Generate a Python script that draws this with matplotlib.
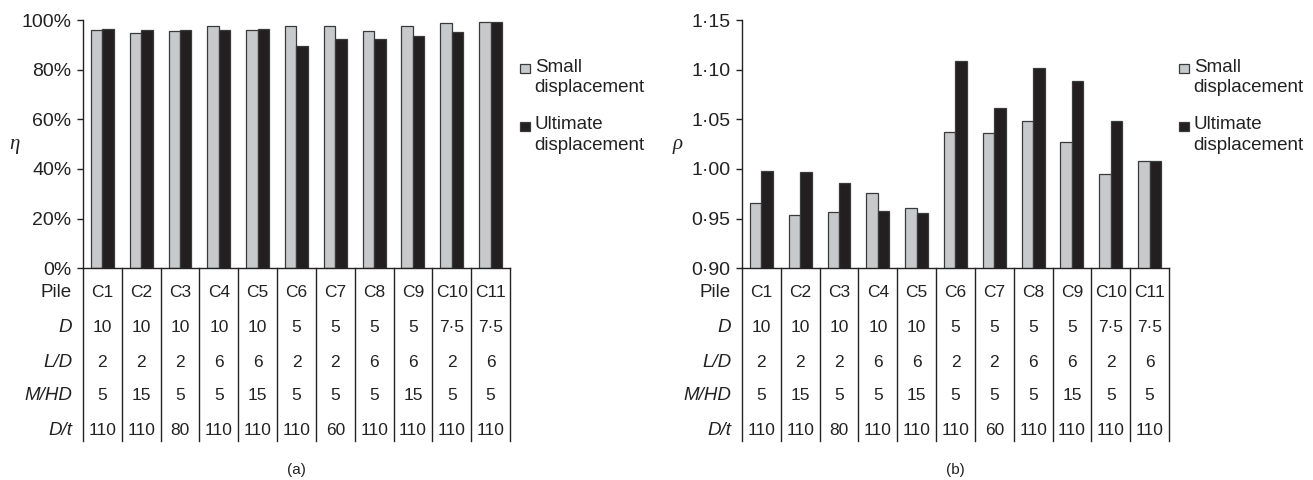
import matplotlib.pyplot as plt
import matplotlib.transforms as mtransforms
from matplotlib.ticker import FuncFormatter, PercentFormatter
from matplotlib.patches import Rectangle
import numpy as np

plt.rcParams['font.family'] = ['Liberation Sans', 'DejaVu Sans']
plt.rcParams['font.size'] = 12

# ---- data ----
piles = ['C1', 'C2', 'C3', 'C4', 'C5', 'C6', 'C7', 'C8', 'C9', 'C10', 'C11']
d_vals = ['10', '10', '10', '10', '10', '5', '5', '5', '5', '7·5', '7·5']
ld_vals = ['2', '2', '2', '6', '6', '2', '2', '6', '6', '2', '6']
mhd_vals = ['5', '15', '5', '5', '15', '5', '5', '5', '15', '5', '5']
dt_vals = ['110', '110', '80', '110', '110', '110', '60', '110', '110', '110', '110']

# efficiency eta (%)
eta_small = [96.0, 94.6, 95.4, 97.7, 95.8, 97.4, 97.4, 95.4, 97.7, 98.8, 99.3]
eta_ult = [96.4, 96.1, 96.1, 95.8, 96.2, 89.7, 92.2, 92.5, 93.6, 95.2, 99.3]

# ratio rho
rho_small = [0.966, 0.954, 0.957, 0.976, 0.961, 1.037, 1.036, 1.048, 1.027, 0.995, 1.008]
rho_ult = [0.998, 0.997, 0.986, 0.958, 0.956, 1.109, 1.061, 1.102, 1.089, 1.048, 1.008]

series_names = ['Small\ndisplacement', 'Ultimate\ndisplacement']

GREY = '#c8c9cb'
BLACK = '#231f20'
EDGE = '#3a3a3a'
LINE = '#222222'
TXT = '#222222'

fig = plt.figure(figsize=(13.13, 4.8), dpi=100)
ax_a = fig.add_axes([0.0632, 0.441, 0.3252, 0.5173])
ax_b = fig.add_axes([0.5651, 0.441, 0.3252, 0.5173])

row_names = ['Pile', 'D', 'L/D', 'M/HD', 'D/t']
row_italic = [False, True, True, True, True]
row_data = [piles, d_vals, ld_vals, mhd_vals, dt_vals]
row_y = [-0.096, -0.237, -0.378, -0.511, -0.652]
line_bottom = -0.696

x = np.arange(len(piles))
w = 0.295


def draw_panel(ax, small, ult, ylim, yticks, fmt, ylab, ylab_x, tag):
    ax.bar(x - w / 2, small, w, color=GREY, edgecolor=EDGE, linewidth=0.9)
    ax.bar(x + w / 2, ult, w, color=BLACK, edgecolor=EDGE, linewidth=0.9)
    ax.set_xlim(-0.5, len(piles) - 0.5)
    ax.set_ylim(*ylim)
    ax.set_yticks(yticks)
    ax.yaxis.set_major_formatter(fmt)
    ax.set_xticks([])
    for s in ['top', 'right']:
        ax.spines[s].set_visible(False)
    for s in ['left', 'bottom']:
        ax.spines[s].set_color(LINE)
        ax.spines[s].set_linewidth(1.0)
    ax.tick_params(axis='y', direction='out', length=4.3, width=1.0,
                   color=LINE, labelsize=14, pad=4, labelcolor=TXT)

    # table under the axis
    trans = mtransforms.blended_transform_factory(ax.transData, ax.transAxes)
    for b in np.arange(-0.5, len(piles) + 0.5, 1.0):
        ax.plot([b, b], [0, line_bottom], color=LINE, lw=1.0,
                transform=trans, clip_on=False)
    for name, ital, vals, yy in zip(row_names, row_italic, row_data, row_y):
        ax.text(-0.78, yy, name, transform=trans, ha='right', va='center',
                fontsize=13.5, style='italic' if ital else 'normal',
                color=TXT)
        for i, v in enumerate(vals):
            ax.text(i, yy, v, transform=trans, ha='center', va='center',
                    fontsize=12.5, color=TXT)

    ax.text(ylab_x, 0.5, ylab, transform=ax.transAxes, ha='center',
            va='center', fontsize=15, style='italic', color=TXT,
            family=['Liberation Serif', 'DejaVu Serif'])
    ax.text(0.5, -0.812, tag, transform=ax.transAxes, ha='center',
            va='center', fontsize=11, color=TXT)

    # legend: square beside the first line of each label
    for col, lab, ysq, ytx in zip([GREY, BLACK], series_names,
                                  [0.787, 0.554], [0.845, 0.612]):
        ax.add_patch(Rectangle((1.023, ysq), 0.0234, 0.037,
                               transform=ax.transAxes, facecolor=col,
                               edgecolor=EDGE, linewidth=0.9, clip_on=False))
        ax.text(1.058, ytx, lab, transform=ax.transAxes, ha='left',
                va='top', fontsize=13.5, color=TXT, linespacing=1.3)


draw_panel(ax_a, eta_small, eta_ult, (0, 100), np.arange(0, 101, 20),
           PercentFormatter(decimals=0), 'η', -0.16, '(a)')
draw_panel(ax_b, rho_small, rho_ult, (0.90, 1.15),
           [0.90, 0.95, 1.00, 1.05, 1.10, 1.15],
           FuncFormatter(lambda v, p: f'{v:.2f}'.replace('.', '·')),
           'ρ', -0.15, '(b)')

fig.savefig('out.png', dpi=100)
